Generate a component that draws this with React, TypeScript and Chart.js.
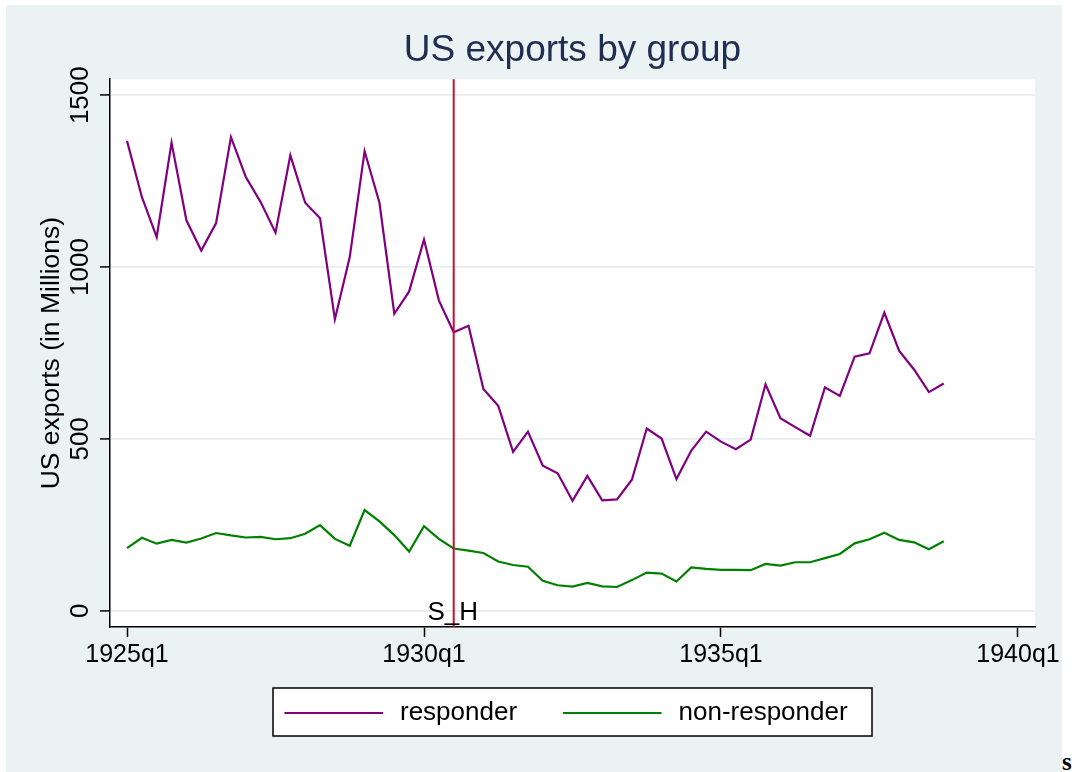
import React, { useEffect, useRef } from "react";
import { Chart, registerables } from "chart.js";

Chart.register(...registerables);

// ---- data ----
const FIRST_YEAR = 1925;
const responder = [
  1367, 1204, 1087, 1362, 1136, 1048, 1128, 1378, 1262, 1189, 1100, 1325, 1187, 1142,
  848, 1029, 1337, 1187, 864, 929, 1080, 903, 810, 829, 645, 596, 462, 521,
  422, 400, 320, 392, 321, 324, 381, 530, 501, 383, 466, 521, 492, 470,
  498, 659, 560, 534, 509, 650, 625, 739, 749, 867, 756, 702, 636, 661,
];
const nonResponder = [
  182, 212, 195, 206, 198, 210, 226, 219, 213, 215, 208, 211, 224, 249,
  209, 189, 293, 260, 220, 172, 246, 209, 181, 175, 168, 143, 133, 128,
  87, 74, 70, 81, 71, 69, 89, 111, 108, 85, 126, 122, 119, 119,
  118, 136, 131, 141, 141, 153, 165, 196, 208, 227, 206, 199, 179, 202,
];
const quarterLabel = (i: number) => `${FIRST_YEAR + Math.floor(i / 4)}q${(i % 4) + 1}`;
const quarters = responder.map((_, i) => quarterLabel(i));
const xTickValues = [0, 20, 40, 60];
const yTickValues = [0, 500, 1000, 1500];
const eventIndex = 22; // 1930q3
const eventLabel = "S_H";
const seriesNames = ["responder", "non-responder"];
const seriesColors = ["#800080", "#008000"];

const FONT = "'Liberation Sans', Arial, Helvetica, sans-serif";

const plotBgPlugin = {
  id: "plotBg",
  beforeDraw(chart: any) {
    const { ctx, chartArea } = chart;
    ctx.save();
    ctx.fillStyle = "#ffffff";
    ctx.fillRect(chartArea.left, chartArea.top, chartArea.right - chartArea.left, chartArea.bottom - chartArea.top);
    ctx.restore();
  },
};

const eventLinePlugin = {
  id: "eventLine",
  afterDatasetsDraw(chart: any) {
    const { ctx, chartArea, scales } = chart;
    const x = scales.x.getPixelForValue(eventIndex);
    ctx.save();
    ctx.strokeStyle = "#c8102e";
    ctx.lineWidth = 2;
    ctx.beginPath();
    ctx.moveTo(x, chartArea.top);
    ctx.lineTo(x, chartArea.bottom);
    ctx.stroke();
    ctx.fillStyle = "#000";
    ctx.font = `26px ${FONT}`;
    ctx.textAlign = "center";
    ctx.textBaseline = "alphabetic";
    ctx.fillText(eventLabel, x - 1, chartArea.bottom - 7);
    ctx.restore();
  },
};

const legendPlugin = {
  id: "customLegend",
  afterDraw(chart: any) {
    const { ctx, chartArea } = chart;
    const cx = (chartArea.left + chartArea.right) / 2;
    const w = 599;
    const h = 48;
    const left = cx - w / 2;
    const top = chartArea.bottom + 61;
    ctx.save();
    ctx.fillStyle = "#ffffff";
    ctx.fillRect(left, top, w, h);
    ctx.strokeStyle = "#000";
    ctx.lineWidth = 1.5;
    ctx.strokeRect(left, top, w, h);
    const yMid = top + h / 2 + 1;
    const itemOffsets = [11.5, 290];
    ctx.font = `26px ${FONT}`;
    ctx.textBaseline = "middle";
    ctx.textAlign = "left";
    seriesNames.forEach((name, i) => {
      const lx = left + itemOffsets[i];
      ctx.strokeStyle = seriesColors[i];
      ctx.lineWidth = 2.2;
      ctx.beginPath();
      ctx.moveTo(lx, yMid);
      ctx.lineTo(lx + 98.5, yMid);
      ctx.stroke();
      ctx.fillStyle = "#000";
      ctx.fillText(name, lx + 115.5, yMid);
    });
    ctx.restore();
  },
};

function ExportsChart() {
  const canvasRef = useRef<HTMLCanvasElement | null>(null);

  useEffect(() => {
    if (!canvasRef.current) return;
    Chart.defaults.font.family = FONT;
    const chart = new Chart(canvasRef.current, {
      type: "line",
      data: {
        labels: quarters,
        datasets: [
          {
            label: seriesNames[0],
            data: responder.map((y, i) => ({ x: i, y })),
            borderColor: seriesColors[0],
            backgroundColor: seriesColors[0],
            borderWidth: 2.2,
            pointRadius: 0,
            fill: false,
            tension: 0,
          },
          {
            label: seriesNames[1],
            data: nonResponder.map((y, i) => ({ x: i, y })),
            borderColor: seriesColors[1],
            backgroundColor: seriesColors[1],
            borderWidth: 2.2,
            pointRadius: 0,
            fill: false,
            tension: 0,
          },
        ],
      },
      options: {
        animation: false,
        responsive: true,
        maintainAspectRatio: false,
        layout: { padding: { left: 0, top: 0, right: 27, bottom: 85 } },
        plugins: {
          legend: { display: false },
          tooltip: { enabled: false },
          title: {
            display: true,
            text: "US exports by group",
            color: "#1e2d50",
            font: { size: 37, weight: "normal", family: FONT },
            padding: { top: 23.5, bottom: 6.3 },
            fullSize: false,
          },
        },
        scales: {
          x: {
            type: "linear",
            min: -1.145,
            max: 61.145,
            afterBuildTicks: (s: any) => {
              s.ticks = xTickValues.map((v) => ({ value: v }));
            },
            afterFit: (s: any) => {
              s.height = 60;
              s.paddingLeft = 0;
              s.paddingRight = 0;
            },
            ticks: {
              callback: (v: any) => quarterLabel(Number(v)),
              color: "#000",
              font: { size: 25, family: FONT },
              padding: 3,
              maxRotation: 0,
              minRotation: 0,
              autoSkip: false,
            },
            grid: {
              drawOnChartArea: false,
              tickLength: 10,
              tickColor: "#000",
              tickWidth: 1.5,
            },
            border: { color: "#000", width: 1.5 },
          },
          y: {
            type: "linear",
            min: -47.4,
            max: 1546.5,
            afterBuildTicks: (s: any) => {
              s.ticks = yTickValues.map((v) => ({ value: v }));
            },
            afterFit: (s: any) => {
              s.width = 104;
              s.paddingTop = 0;
              s.paddingBottom = 0;
            },
            ticks: {
              callback: (v: any) => String(v),
              color: "#000",
              font: { size: 26, family: FONT },
              minRotation: 90,
              maxRotation: 90,
              crossAlign: "center",
              padding: -10,
              autoSkip: false,
            },
            grid: {
              color: "#e6eef0",
              lineWidth: 1.8,
              tickLength: 10,
              tickColor: "#000",
              tickWidth: 1.5,
            },
            border: { color: "#000", width: 1.5 },
            title: {
              display: true,
              text: "US exports (in Millions)",
              color: "#000",
              font: { size: 26.5, family: FONT },
              padding: { top: 30, bottom: 0 },
            },
          },
        },
      } as any,
      plugins: [plotBgPlugin, eventLinePlugin, legendPlugin],
    });
    return () => chart.destroy();
  }, []);

  return (
    <div
      style={{
        position: "absolute",
        left: 6,
        top: 5,
        width: 1056,
        height: 767,
        background: "#EAF2F3",
      }}
    >
      <canvas ref={canvasRef} />
    </div>
  );
}

export default function App() {
  return (
    <div style={{ position: "absolute", left: 0, top: 0, width: 1077, height: 772, background: "#ffffff", overflow: "hidden" }}>
      <ExportsChart />
      <span
        style={{
          position: "absolute",
          left: 1062,
          top: 749,
          font: "bold 25px 'Liberation Serif', 'Times New Roman', serif",
          lineHeight: "25px",
          color: "#000",
        }}
      >
        s
      </span>
    </div>
  );
}
